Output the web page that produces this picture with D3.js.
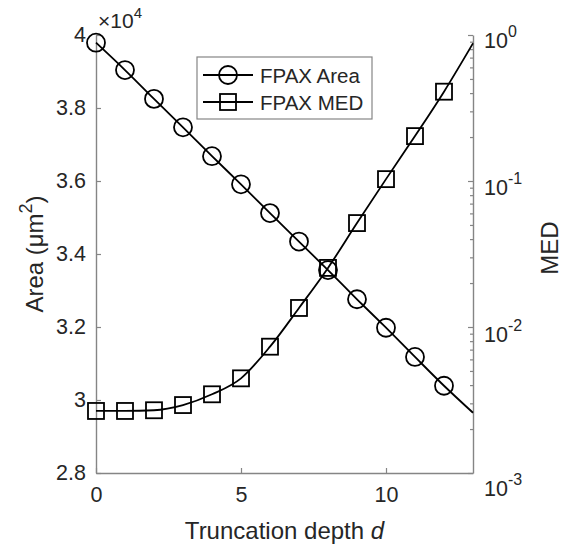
<!DOCTYPE html>
<html>
<head>
<meta charset="utf-8">
<script src="https://cdn.jsdelivr.net/npm/d3@7"></script>
<style>
  body { margin: 0; background: #fff; }
  svg { display: block; font-family: "Liberation Sans", Arial, sans-serif; }
</style>
</head>
<body>
<svg id="chart" width="567" height="547"></svg>
<script>
// ---- data ----
const depth = [0, 1, 2, 3, 4, 5, 6, 7, 8, 9, 10, 11, 12, 13];
const markerDepth = [0, 1, 2, 3, 4, 5, 6, 7, 8, 9, 10, 11, 12];
// Area in units of 1e4 um^2
const area = [3.979, 3.904, 3.825, 3.747, 3.668, 3.591, 3.512, 3.434, 3.356, 3.276, 3.198, 3.118, 3.039, 2.965];
const med = [0.00266, 0.00266, 0.00269, 0.00292, 0.00346, 0.00445, 0.00733, 0.0135, 0.0254, 0.0515, 0.103, 0.203, 0.409, 0.877];
const xTicks = [0, 5, 10];
const yLeftTicks = [2.8, 3.0, 3.2, 3.4, 3.6, 3.8, 4.0];
const yLeftTickLabels = ["2.8", "3", "3.2", "3.4", "3.6", "3.8", "4"];
const yRightTicks = [1e-3, 1e-2, 1e-1, 1];
const yRightExponents = ["-3", "-2", "-1", "0"];
const legendLabels = ["FPAX Area", "FPAX MED"];

// ---- layout ----
const plotL = 96, plotR = 473, plotT = 35, plotB = 473;
const axisColor = "#858585", textColor = "#262626";
const svg = d3.select("#chart");

const x = d3.scaleLinear().domain([0, 13]).range([plotL, plotR]);
const yL = d3.scaleLinear().domain([2.8, 4.0]).range([plotB, plotT]);
const yR = d3.scaleLog().domain([1e-3, 1]).range([plotB, plotT]);

// ---- axes ----
const gx = svg.append("g").attr("transform", `translate(0,${plotB})`)
  .call(d3.axisBottom(x).tickValues(xTicks).tickSize(-5).tickPadding(14).tickSizeOuter(0));
gx.selectAll("text").attr("font-size", 21.5).attr("dy", "0.71em");

const gyl = svg.append("g").attr("transform", `translate(${plotL},0)`)
  .call(d3.axisLeft(yL).tickValues(yLeftTicks).tickSize(-5).tickPadding(10).tickSizeOuter(0)
    .tickFormat((d, i) => yLeftTickLabels[i]));
gyl.selectAll("text").attr("font-size", 21.5);

// right log axis: minor ticks
const minor = [];
for (let e = -3; e < 0; e++) for (let m = 2; m <= 9; m++) minor.push(m * Math.pow(10, e));
const gyrMinor = svg.append("g").attr("transform", `translate(${plotR},0)`)
  .call(d3.axisRight(yR).tickValues(minor).tickSize(-3).tickFormat(() => "").tickSizeOuter(0));
const gyr = svg.append("g").attr("transform", `translate(${plotR},0)`)
  .call(d3.axisRight(yR).tickValues(yRightTicks).tickSize(-5).tickFormat(() => "").tickSizeOuter(0));
gyrMinor.select(".domain").remove();
const rightLabelDy = [22, 14, 13, 12];
gyr.selectAll(".tick").each(function (d, i) {
  const t = d3.select(this).select("text").attr("x", 11).attr("dy", null)
    .attr("y", rightLabelDy[i]).attr("font-size", 21.5).attr("text-anchor", "start");
  t.text(null);
  t.append("tspan").text("10");
  t.append("tspan").attr("font-size", 16).attr("dy", -11).text(yRightExponents[i]);
});

[gx, gyl, gyr, gyrMinor].forEach(g => {
  g.selectAll(".domain").attr("stroke", axisColor).attr("stroke-width", 1.4);
  g.selectAll(".tick line").attr("stroke", axisColor).attr("stroke-width", 1.2);
  g.selectAll("text").attr("fill", textColor).attr("font-family", "Liberation Sans, Arial, sans-serif");
});

// exponent label x10^4
const expLabel = svg.append("text").attr("x", plotL + 2).attr("y", 28)
  .attr("font-size", 21).attr("fill", textColor);
expLabel.append("tspan").text("\u00d710");
expLabel.append("tspan").attr("font-size", 15).attr("dy", -10).text("4");

// axis labels
const xl = svg.append("text").attr("x", (plotL + plotR) / 2).attr("y", 539)
  .attr("text-anchor", "middle").attr("font-size", 24).attr("fill", textColor);
xl.append("tspan").text("Truncation depth ");
xl.append("tspan").attr("font-style", "italic").text("d");

const yl = svg.append("text").attr("transform", `translate(43,${(plotT + plotB) / 2}) rotate(-90)`)
  .attr("text-anchor", "middle").attr("font-size", 24).attr("fill", textColor);
yl.append("tspan").text("Area (\u03bcm");
yl.append("tspan").attr("font-size", 18).attr("dy", -11).text("2");
yl.append("tspan").attr("dy", 11).text(")");

svg.append("text").attr("transform", `translate(558,248) rotate(-90)`)
  .attr("text-anchor", "middle").attr("font-size", 24).attr("fill", textColor).text("MED");

// ---- lines ----
const areaPts = depth.map((d, i) => [d, area[i]]);
const medPts = depth.map((d, i) => [d, med[i]]);
svg.append("path").datum(areaPts)
  .attr("d", d3.line().x(d => x(d[0])).y(d => yL(d[1])).curve(d3.curveMonotoneX))
  .attr("fill", "none").attr("stroke", "#000").attr("stroke-width", 1.8);
svg.append("path").datum(medPts)
  .attr("d", d3.line().x(d => x(d[0])).y(d => yR(d[1])).curve(d3.curveMonotoneX))
  .attr("fill", "none").attr("stroke", "#000").attr("stroke-width", 1.8);

// ---- markers ----
const r = 9, s = 16;
svg.append("g").selectAll("circle").data(markerDepth).join("circle")
  .attr("cx", d => x(d)).attr("cy", (d, i) => yL(area[i])).attr("r", r)
  .attr("fill", "none").attr("stroke", "#000").attr("stroke-width", 1.8);
svg.append("g").selectAll("rect").data(markerDepth).join("rect")
  .attr("x", d => x(d) - s / 2).attr("y", (d, i) => yR(med[i]) - s / 2)
  .attr("width", s).attr("height", s)
  .attr("fill", "none").attr("stroke", "#000").attr("stroke-width", 1.8);

// ---- legend ----
const lg = svg.append("g");
lg.append("rect").attr("x", 197).attr("y", 57).attr("width", 175).attr("height", 62)
  .attr("fill", "#fff").attr("stroke", axisColor).attr("stroke-width", 1.2);
legendLabels.forEach((lab, i) => {
  const cy = 75 + i * 27;
  lg.append("line").attr("x1", 203).attr("x2", 253).attr("y1", cy).attr("y2", cy)
    .attr("stroke", "#000").attr("stroke-width", 1.8);
  if (i === 0) {
    lg.append("circle").attr("cx", 228).attr("cy", cy).attr("r", r)
      .attr("fill", "none").attr("stroke", "#000").attr("stroke-width", 1.8);
  } else {
    lg.append("rect").attr("x", 228 - s / 2).attr("y", cy - s / 2).attr("width", s).attr("height", s)
      .attr("fill", "none").attr("stroke", "#000").attr("stroke-width", 1.8);
  }
  lg.append("text").attr("x", 260).attr("y", cy + 7.5).attr("font-size", 20.5)
    .attr("fill", textColor).text(lab);
});
</script>
</body>
</html>
